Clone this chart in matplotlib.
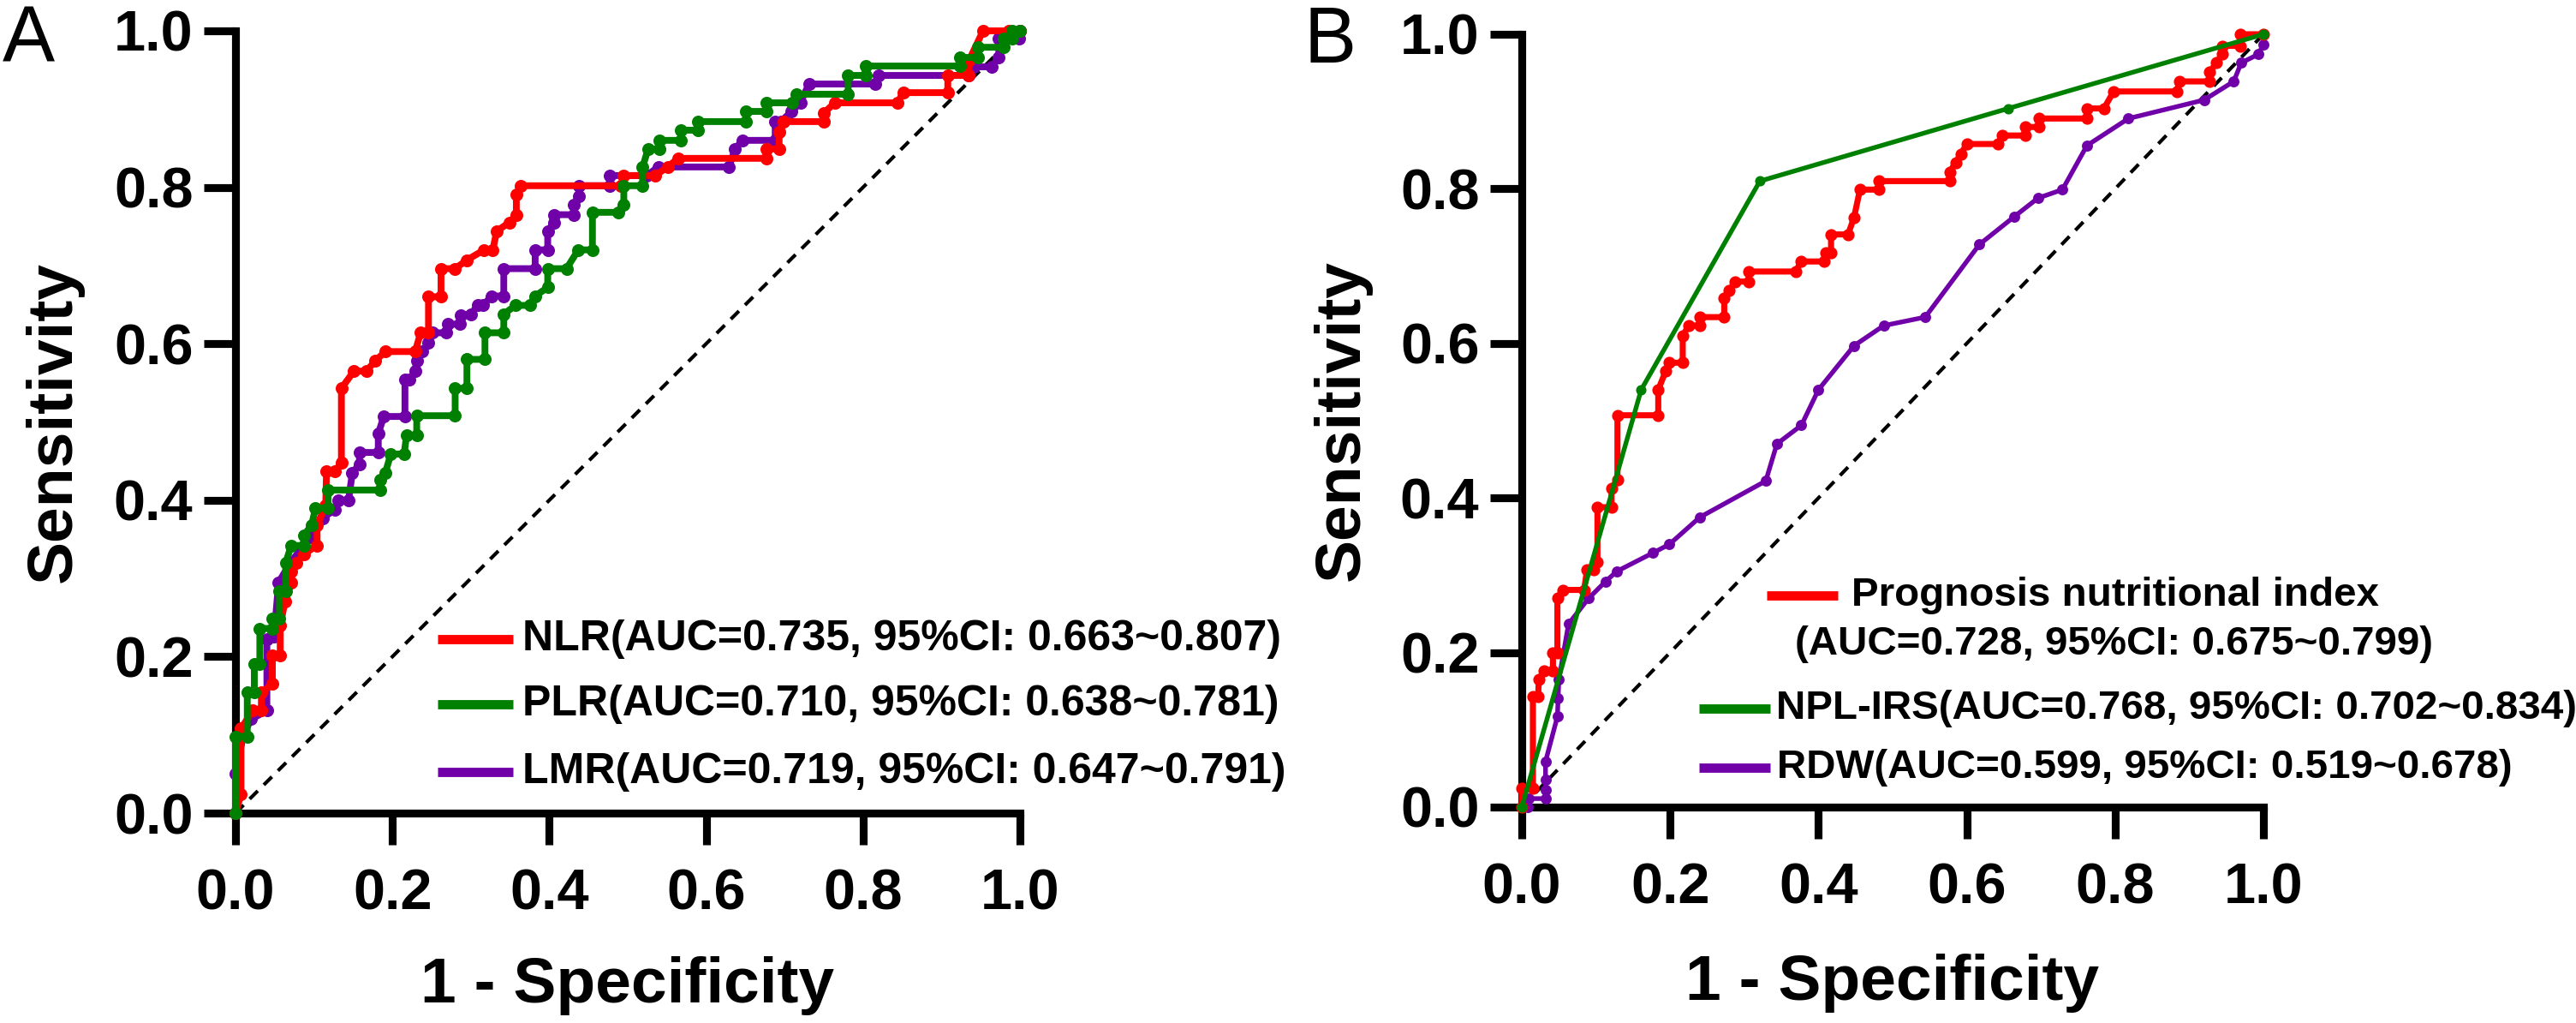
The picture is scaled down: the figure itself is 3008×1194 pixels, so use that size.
import numpy as np
import matplotlib
matplotlib.use("Agg")
import matplotlib.pyplot as plt

plt.rcParams['font.family'] = ['Liberation Sans', 'DejaVu Sans']
plt.rcParams['font.weight'] = 'bold'

# ---- panel A: ROC points (1 - specificity, sensitivity)
nlr = [(0, 0), (0.007, 0.024), (0.007, 0.108), (0.022, 0.131), (0.033, 0.131), (0.033, 0.154),
       (0.047, 0.165), (0.047, 0.202), (0.057, 0.202), (0.057, 0.240), (0.063, 0.270),
       (0.071, 0.295), (0.071, 0.309), (0.078, 0.320), (0.087, 0.331), (0.104, 0.342),
       (0.104, 0.368), (0.115, 0.393), (0.116, 0.437), (0.127, 0.437), (0.135, 0.448),
       (0.135, 0.543), (0.151, 0.565), (0.167, 0.565), (0.178, 0.578), (0.191, 0.590),
       (0.229, 0.590), (0.236, 0.614), (0.246, 0.614), (0.246, 0.660), (0.262, 0.660),
       (0.262, 0.696), (0.280, 0.696), (0.295, 0.707), (0.317, 0.720), (0.328, 0.720),
       (0.333, 0.744), (0.349, 0.755), (0.358, 0.765), (0.358, 0.791), (0.364, 0.802),
       (0.491, 0.802), (0.495, 0.815), (0.535, 0.815), (0.551, 0.826), (0.564, 0.837),
       (0.677, 0.837), (0.677, 0.849), (0.693, 0.849), (0.693, 0.871), (0.699, 0.884),
       (0.750, 0.884), (0.750, 0.895), (0.764, 0.908), (0.844, 0.908), (0.851, 0.921),
       (0.908, 0.921), (0.908, 0.943), (0.935, 0.943), (0.935, 0.962), (0.953, 1.0),
       (0.986, 1.0), (1.0, 1.0)]

plr = [(0, 0), (0, 0.098), (0.015, 0.098), (0.015, 0.154), (0.024, 0.154), (0.024, 0.191),
       (0.031, 0.191), (0.031, 0.236), (0.047, 0.236), (0.047, 0.249), (0.056, 0.249),
       (0.056, 0.284), (0.064, 0.284), (0.064, 0.320), (0.071, 0.342), (0.087, 0.342),
       (0.087, 0.355), (0.097, 0.368), (0.102, 0.390), (0.118, 0.390), (0.118, 0.413),
       (0.184, 0.413), (0.184, 0.426), (0.191, 0.435), (0.198, 0.459), (0.215, 0.459),
       (0.218, 0.483), (0.231, 0.483), (0.231, 0.508), (0.280, 0.508), (0.280, 0.543),
       (0.295, 0.543), (0.295, 0.580), (0.318, 0.580), (0.318, 0.614), (0.342, 0.614),
       (0.342, 0.638), (0.357, 0.649), (0.375, 0.649), (0.382, 0.661), (0.398, 0.672),
       (0.398, 0.696), (0.422, 0.696), (0.437, 0.720), (0.455, 0.720), (0.455, 0.768),
       (0.488, 0.768), (0.495, 0.778), (0.495, 0.802), (0.519, 0.802), (0.519, 0.826),
       (0.526, 0.849), (0.540, 0.849), (0.540, 0.860), (0.568, 0.860), (0.568, 0.873),
       (0.590, 0.873), (0.590, 0.884), (0.651, 0.884), (0.651, 0.897), (0.677, 0.897),
       (0.677, 0.908), (0.710, 0.908), (0.715, 0.919), (0.781, 0.919), (0.781, 0.943),
       (0.804, 0.943), (0.804, 0.955), (0.924, 0.955), (0.924, 0.966), (0.946, 0.966),
       (0.946, 0.979), (0.979, 0.979), (0.979, 0.990), (0.990, 0.990), (0.990, 1.0),
       (1.0, 1.0)]

lmr = [(0, 0), (0, 0.050), (0.010, 0.100), (0.020, 0.120), (0.040, 0.131), (0.040, 0.222),
       (0.049, 0.226), (0.055, 0.295), (0.070, 0.320), (0.095, 0.353), (0.111, 0.377),
       (0.127, 0.388), (0.131, 0.400), (0.144, 0.400), (0.149, 0.435), (0.158, 0.446),
       (0.158, 0.461), (0.182, 0.461), (0.182, 0.485), (0.189, 0.507), (0.216, 0.507),
       (0.216, 0.554), (0.222, 0.554), (0.229, 0.565), (0.231, 0.578), (0.238, 0.590),
       (0.246, 0.601), (0.251, 0.614), (0.269, 0.614), (0.271, 0.625), (0.286, 0.625),
       (0.287, 0.636), (0.300, 0.638), (0.309, 0.649), (0.316, 0.649), (0.326, 0.661),
       (0.342, 0.661), (0.342, 0.696), (0.382, 0.696), (0.382, 0.720), (0.398, 0.720),
       (0.398, 0.744), (0.406, 0.755), (0.406, 0.765), (0.431, 0.765), (0.431, 0.778),
       (0.438, 0.789), (0.438, 0.802), (0.477, 0.802), (0.477, 0.815), (0.524, 0.815),
       (0.539, 0.826), (0.629, 0.826), (0.637, 0.849), (0.646, 0.860), (0.688, 0.860),
       (0.688, 0.884), (0.695, 0.884), (0.709, 0.897), (0.720, 0.908), (0.731, 0.932),
       (0.815, 0.932), (0.820, 0.943), (0.935, 0.943), (0.941, 0.954), (0.964, 0.954),
       (0.973, 0.966), (0.973, 0.990), (0.999, 0.990), (1.0, 1.0)]

# ---- panel B
pni = [(0, 0), (0, 0.024), (0.015, 0.024), (0.015, 0.143), (0.022, 0.143), (0.023, 0.165),
       (0.030, 0.176), (0.042, 0.176), (0.042, 0.200), (0.048, 0.200), (0.048, 0.270),
       (0.055, 0.281), (0.084, 0.281), (0.088, 0.307), (0.097, 0.307), (0.102, 0.317),
       (0.102, 0.388), (0.121, 0.388), (0.121, 0.412), (0.129, 0.424), (0.129, 0.507),
       (0.184, 0.507), (0.184, 0.540), (0.194, 0.564), (0.199, 0.575), (0.217, 0.575),
       (0.217, 0.610), (0.225, 0.623), (0.240, 0.623), (0.240, 0.634), (0.273, 0.634),
       (0.273, 0.658), (0.280, 0.669), (0.288, 0.680), (0.306, 0.680), (0.306, 0.693),
       (0.369, 0.693), (0.377, 0.706), (0.408, 0.706), (0.410, 0.717), (0.417, 0.717),
       (0.417, 0.741), (0.440, 0.741), (0.448, 0.763), (0.456, 0.799), (0.481, 0.799),
       (0.481, 0.810), (0.577, 0.810), (0.577, 0.822), (0.585, 0.834), (0.592, 0.845),
       (0.600, 0.858), (0.642, 0.858), (0.648, 0.869), (0.679, 0.869), (0.679, 0.880),
       (0.697, 0.880), (0.698, 0.891), (0.762, 0.891), (0.762, 0.904), (0.785, 0.904),
       (0.798, 0.926), (0.883, 0.926), (0.887, 0.939), (0.927, 0.939), (0.927, 0.951),
       (0.937, 0.963), (0.944, 0.974), (0.944, 0.985), (0.969, 0.985), (0.969, 1.0),
       (1.0, 1.0)]

npl_irs = [(0, 0), (0.161, 0.540), (0.321, 0.810), (0.656, 0.904), (1.0, 1.0)]

rdw = [(0, 0), (0.008, 0.0), (0.009, 0.011), (0.032, 0.011), (0.032, 0.022), (0.032, 0.035),
       (0.032, 0.059), (0.048, 0.117), (0.049, 0.141), (0.050, 0.165), (0.063, 0.237),
       (0.090, 0.270), (0.113, 0.292), (0.128, 0.305), (0.177, 0.329), (0.199, 0.340),
       (0.240, 0.375), (0.329, 0.422), (0.344, 0.470), (0.377, 0.494), (0.400, 0.540),
       (0.448, 0.597), (0.488, 0.623), (0.544, 0.634), (0.617, 0.728), (0.664, 0.764),
       (0.696, 0.788), (0.729, 0.799), (0.762, 0.856), (0.818, 0.891), (0.920, 0.915),
       (0.960, 0.939), (0.970, 0.963), (0.993, 0.974), (1.0, 0.987)]

labels_a = ["NLR(AUC=0.735, 95%CI: 0.663~0.807)",
            "PLR(AUC=0.710, 95%CI: 0.638~0.781)",
            "LMR(AUC=0.719, 95%CI: 0.647~0.791)"]
labels_b = ["Prognosis nutritional index",
            "(AUC=0.728, 95%CI: 0.675~0.799)",
            "NPL-IRS(AUC=0.768, 95%CI: 0.702~0.834)",
            "RDW(AUC=0.599, 95%CI: 0.519~0.678)"]

ticks = [0.0, 0.2, 0.4, 0.6, 0.8, 1.0]
diag = [0, 1]

RED = '#ff0000'
GREEN = '#008000'
PURPLE = '#7000a8'


def style_axes(ax):
    ax.set_xlim(0, 1)
    ax.set_ylim(0, 1)
    ax.spines[['top', 'right']].set_visible(False)
    ax.spines['left'].set_linewidth(2.2)
    ax.spines['bottom'].set_linewidth(2.2)
    ax.set_xticks(ticks)
    ax.set_yticks(ticks)
    ax.xaxis.set_major_formatter('{x:.1f}')
    ax.yaxis.set_major_formatter('{x:.1f}')
    ax.tick_params(length=8.9, width=2.2, labelsize=16)
    ax.tick_params(axis='x', pad=6.5)
    ax.tick_params(axis='y', pad=3)
    ax.plot(diag, diag, color='black', lw=1.0, dashes=(3.2, 2.4), zorder=2)


def draw_curve(ax, pts, color, z, lw=1.5, ms=2.4):
    x = [p[0] for p in pts]
    y = [p[1] for p in pts]
    ax.plot(x, y, color=color, lw=lw, marker='o', ms=ms, mec=color, mfc=color,
            clip_on=False, zorder=z)


def legend_row(ax, x0, x1, y, color, text, tx, size):
    ax.plot([x0, x1], [y, y], color=color, lw=2.6, solid_capstyle='butt',
            transform=ax.transAxes, clip_on=False)
    if text:
        ax.text(tx, y, text, transform=ax.transAxes, va='center', ha='left',
                fontsize=size, fontweight='bold')


fig = plt.figure(figsize=(3008 / 300, 1194 / 300), dpi=300)
axA = fig.add_axes([275 / 3008, 1 - 949 / 1194, 916 / 3008, 913 / 1194])
axB = fig.add_axes([1777 / 3008, 1 - 942 / 1194, 866 / 3008, 902 / 1194])

# panel A
style_axes(axA)
draw_curve(axA, lmr, PURPLE, 3, lw=1.9, ms=2.6)
draw_curve(axA, nlr, RED, 4, lw=1.9, ms=2.6)
draw_curve(axA, plr, GREEN, 5, lw=1.9, ms=2.6)
axA.set_xlabel('1 - Specificity', fontsize=18, fontweight='bold')
axA.set_ylabel('Sensitivity', fontsize=18, fontweight='bold')
axA.xaxis.set_label_coords(0.5, -0.183)
axA.yaxis.set_label_coords(-0.193, 0.5)

legend_row(axA, 0.2576, 0.3537, 0.2223, RED, labels_a[0], 0.3657, 12)
legend_row(axA, 0.2576, 0.3537, 0.1391, GREEN, labels_a[1], 0.3657, 12)
legend_row(axA, 0.2576, 0.3537, 0.0526, PURPLE, labels_a[2], 0.3657, 12)

# panel B
style_axes(axB)
draw_curve(axB, rdw, PURPLE, 3, lw=1.3, ms=2.1)
draw_curve(axB, pni, RED, 4, lw=1.7, ms=2.4)
draw_curve(axB, npl_irs, GREEN, 5, lw=1.3, ms=1.9)
axB.set_xlabel('1 - Specificity', fontsize=18, fontweight='bold')
axB.set_ylabel('Sensitivity', fontsize=18, fontweight='bold')
axB.xaxis.set_label_coords(0.5, -0.19)
axB.yaxis.set_label_coords(-0.202, 0.5)

legend_row(axB, 0.3303, 0.4261, 0.2738, RED, labels_b[0], 0.4446, 11.4)
axB.text(0.3684, 0.2106, labels_b[1], transform=axB.transAxes, va='center',
         ha='left', fontsize=11.4, fontweight='bold')
legend_row(axB, 0.2390, 0.3349, 0.1275, GREEN, labels_b[2], 0.343, 11.4)
legend_row(axB, 0.2390, 0.3349, 0.0510, PURPLE, labels_b[3], 0.344, 11.4)

fig.text(3 / 3008, 1 - 73 / 1194, 'A', fontsize=22, fontweight='normal', va='baseline')
fig.text(1523 / 3008, 1 - 73 / 1194, 'B', fontsize=22, fontweight='normal', va='baseline')

fig.savefig('out.png', dpi=300, facecolor='white')
